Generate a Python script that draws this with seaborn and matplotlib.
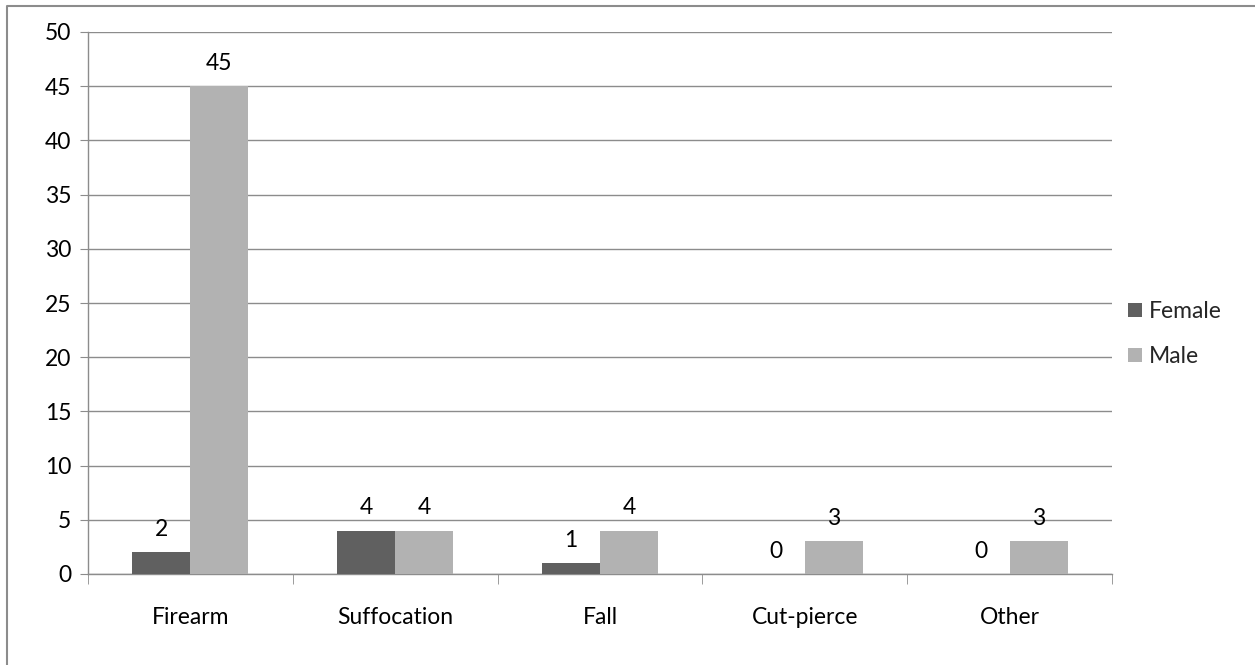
import matplotlib.pyplot as plt
import numpy as np
import pandas as pd
import seaborn as sns
from matplotlib.lines import Line2D

categories = ["Firearm", "Suffocation", "Fall", "Cut-pierce", "Other"]
female = [2, 4, 1, 0, 0]
male = [45, 4, 4, 3, 3]
series = ["Female", "Male"]
colors = ["#606060", "#b2b2b2"]

df = pd.DataFrame({
    "category": categories * 2,
    "sex": ["Female"] * len(categories) + ["Male"] * len(categories),
    "count": female + male,
})

sns.set_style("white")
plt.rcParams["font.family"] = ["Lato", "DejaVu Sans"]
FS = 16.5

fig = plt.figure(figsize=(12.55, 6.65), dpi=100)
ax = fig.add_axes([88 / 1255, 1 - 574 / 665, (1112 - 88) / 1255, (574 - 32) / 665])

sns.barplot(data=df, x="category", y="count", hue="sex", order=categories,
            hue_order=series, palette=colors, width=0.566, saturation=1,
            linewidth=0, ax=ax, legend=True, zorder=3)

for cont in ax.containers:
    ax.bar_label(cont, labels=[f"{int(v)}" for v in cont.datavalues],
                 padding=9, fontsize=FS, color="#000000")

ax.set_ylim(0, 50)
ax.set_yticks(np.arange(0, 51, 5))
ax.set_xlim(-0.5, len(categories) - 0.5)
ax.set_xlabel("")
ax.set_ylabel("")
ax.yaxis.grid(True, color="#8c8c8c", linewidth=1.0, zorder=0)
ax.set_axisbelow(True)
for s in ["top", "right"]:
    ax.spines[s].set_visible(False)
for s in ["left", "bottom"]:
    ax.spines[s].set_color("#8c8c8c")
    ax.spines[s].set_linewidth(1.0)

ax.tick_params(axis="y", left=True, length=6, color="#8c8c8c", labelsize=FS,
               labelcolor="#000000", pad=6)
ax.tick_params(axis="x", bottom=False, labelsize=FS, labelcolor="#000000", pad=20)
ax.set_xticks(np.arange(len(categories)), labels=categories)
ax.set_xticks(np.arange(len(categories) + 1) - 0.5, minor=True)
ax.tick_params(axis="x", which="minor", bottom=True, length=7, color="#8c8c8c")

ax.legend(loc="center left", bbox_to_anchor=(1.016, 0.443), frameon=False,
          borderpad=0, borderaxespad=0, fontsize=FS, handlelength=0.6,
          handleheight=0.6, handletextpad=0.3, labelspacing=1.05)

# chart border: only top and left edges are visible in the original
fig.lines.append(Line2D([7 / 1255, 7 / 1255, 1.0], [0.0, 1 - 6 / 665, 1 - 6 / 665],
                        transform=fig.transFigure, color="#8c8c8c", linewidth=1.5))

fig.savefig("out.png", dpi=100)
